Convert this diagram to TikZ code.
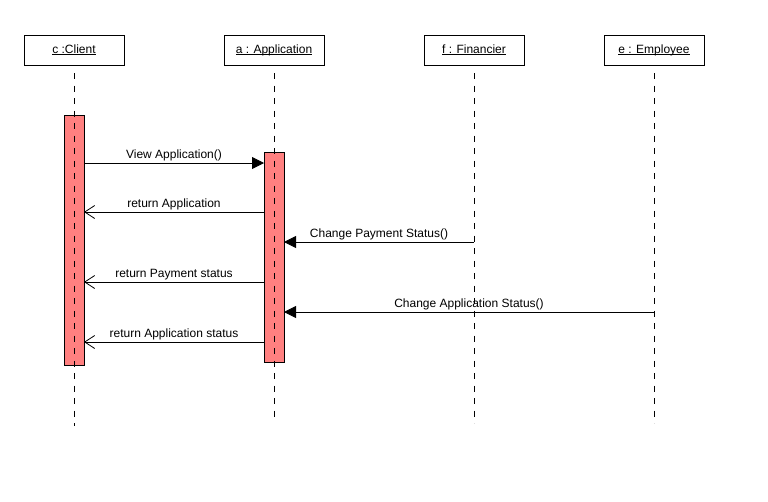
\documentclass[tikz,border=0pt]{standalone}
\usepackage{fontspec}
\setmainfont{Liberation Sans}
\usetikzlibrary{arrows.meta}
\newcommand\myul[1]{\setbox0\hbox{#1}\rlap{\rule[-1.6pt]{\wd0}{0.7pt}}\box0}
\begin{document}
\begin{tikzpicture}[x=1pt,y=-1pt,
  every node/.style={font=\fontsize{12}{14}\selectfont},
  obj/.style={draw,line width=0.8pt,minimum width=100pt,minimum height=30pt,inner sep=0pt},
  life/.style={line width=0.8pt,dash pattern=on 6pt off 6.5pt},
  act/.style={draw,line width=0.8pt,fill={rgb,255:red,255;green,128;blue,128}},
  call/.style={line width=0.8pt,-{Triangle[length=12pt,width=12pt]}},
  ret/.style={line width=0.8pt,-{Straight Barb[length=10pt,width=13pt,line width=0.8pt]}},
  lbl/.style={above,inner sep=1.8pt}]
\useasboundingbox (0,0) rectangle (768,501);
% objects
\node[obj] (c) at (74,50) {\myul{c :Client}};
\node[obj] (a) at (274,50) {\myul{a : Application}};
\node[obj] (f) at (474,50) {\myul{f : Financier}};
\node[obj] (e) at (654,50) {\myul{e : Employee}};
% lifeline ends
\coordinate (cs) at (74,73); \coordinate (ce) at (74,426);
\coordinate (as) at (274,73); \coordinate (ae) at (274,420);
\coordinate (fs) at (474,73); \coordinate (fe) at (474,423);
\coordinate (es) at (654,73); \coordinate (ee) at (654,423);
% activations
\draw[act] (64,115) rectangle (84,365);
\draw[act] (264,152) rectangle (284,362);
% lifelines
\draw[life] (cs) -- (ce);
\draw[life] (as) -- (ae);
\draw[life] (fs) -- (fe);
\draw[life] (es) -- (ee);
% messages
\draw[call] (84,163) -- node[lbl]{View Application()} (264,163);
\draw[ret] (264,212) -- node[lbl]{return Application} (84,212);
\draw[call] (474,242) -- node[lbl]{Change Payment Status()} (284,242);
\draw[ret] (264,282) -- node[lbl]{return Payment status} (84,282);
\draw[call] (654,312) -- node[lbl]{Change Application Status()} (284,312);
\draw[ret] (264,342) -- node[lbl]{return Application status} (84,342);
\end{tikzpicture}
\end{document}
